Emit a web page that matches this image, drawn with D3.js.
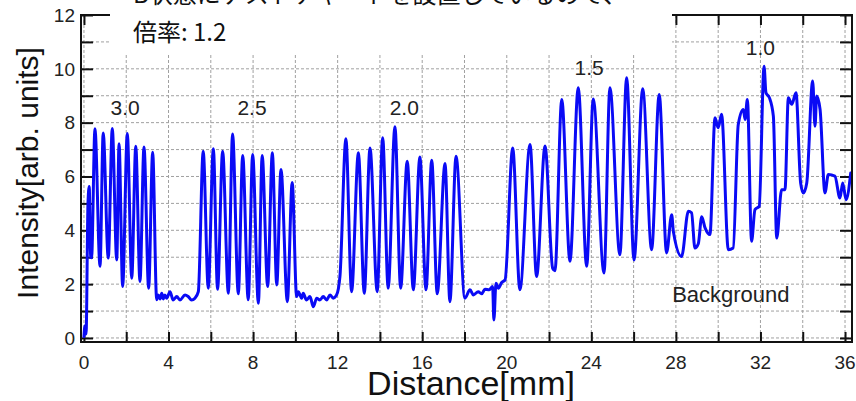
<!DOCTYPE html>
<html><head><meta charset="utf-8">
<script src="https://cdn.jsdelivr.net/npm/d3@7"></script>
<style>body{margin:0;background:#fff;} svg{display:block;}</style>
</head><body>
<svg id="chart" width="856" height="401"></svg>
<script>
// ---- data ----
const distance = [0.00,0.05,0.10,0.19,0.25,0.31,0.36,0.52,0.76,0.91,1.15,1.34,1.55,1.66,1.83,2.05,2.26,2.45,2.65,2.84,3.06,3.25,3.44,3.51,3.60,3.68,3.75,3.83,3.91,4.07,4.22,4.39,4.54,4.78,4.93,5.09,5.25,5.41,
5.64,5.88,6.12,6.32,6.56,6.83,7.03,7.30,7.51,7.77,7.98,8.25,8.43,8.69,8.91,9.12,9.32,9.62,9.85,10.06,10.14,10.30,10.37,10.53,10.69,10.85,11.01,11.16,11.32,11.48,11.64,11.79,11.95,12.11,
12.39,12.66,12.98,13.26,13.53,13.87,14.13,14.39,14.71,14.98,15.29,15.58,15.89,16.18,16.45,16.71,17.08,17.31,17.60,18.02,18.26,18.42,18.65,18.81,18.97,19.17,19.33,19.39,19.49,19.60,19.76,19.92,
20.28,20.62,21.10,21.41,21.81,22.17,22.28,22.60,22.99,23.38,23.78,24.09,24.60,24.88,25.35,25.67,26.02,26.43,26.85,27.21,27.56,
27.80,27.88,28.27,28.59,28.74,28.90,29.06,29.22,29.38,29.61,29.85,30.00,30.16,30.48,30.71,30.95,31.19,31.27,31.38,31.58,31.74,31.94,32.17,32.26,32.42,32.61,32.77,33.00,33.16,33.32,33.48,33.68,33.90,34.03,34.19,34.47,34.58,34.66,34.82,35.05,35.21,35.52,35.76,35.89,36.05,36.27];
const intensity = [0.05,0.45,0.15,5.0,5.63,3.0,2.98,7.77,2.66,7.62,2.97,7.78,2.90,7.22,1.91,7.60,2.22,7.12,2.10,7.10,1.85,6.90,1.42,1.60,1.45,1.66,1.45,1.60,1.48,1.72,1.41,1.54,1.41,1.60,1.54,1.41,1.48,1.72,
6.94,1.85,7.03,1.81,6.94,1.66,7.58,1.64,6.78,1.42,6.82,1.29,6.78,1.91,6.88,1.97,6.26,1.35,5.78,1.54,1.72,1.48,1.66,1.41,1.54,1.16,1.48,1.41,1.54,1.41,1.60,1.48,1.60,2.3,
7.40,1.72,6.88,1.66,7.06,1.72,7.44,1.85,7.85,1.85,6.57,1.79,6.72,1.79,6.60,1.64,6.48,1.35,6.75,1.48,1.79,1.60,1.72,1.64,1.81,1.79,1.91,0.67,2.03,1.85,2.06,2.16,
7.06,1.79,7.19,2.28,7.13,2.59,2.50,8.86,2.85,9.30,2.66,8.88,2.41,9.30,3.09,9.67,2.90,9.26,3.28,9.05,3.16,
4.58,3.96,3.03,4.71,4.65,3.34,3.50,4.50,4.09,3.84,8.18,7.81,8.31,3.28,3.34,7.93,8.49,8.12,8.86,3.59,4.77,4.89,10.10,9.11,8.93,8.24,3.71,5.51,5.51,8.93,8.68,9.11,5.76,5.39,5.76,9.55,7.87,8.99,8.49,5.39,6.07,6.01,5.20,5.76,5.14,6.13];

const xTickLabels = [0,4,8,12,16,20,24,28,32,36];
const xTickMarks = d3.range(0, 37, 2);
const yTickLabels = [0,2,4,6,8,10,12];
const yTickMarks = d3.range(0, 13, 1);
const groupLabels = ["3.0","2.5","2.0","1.5","1.0"];
const groupX = [1.95, 7.95, 15.15, 23.9, 32.0];
const groupY = [8.28, 8.28, 8.3, 9.76, 10.5];
const bgLabel = "Background";
const bgX = 30.6, bgY = 1.32;
const noteLines = ["B状態にテストチャートを設置しているので、", "倍率: 1.2"];
const xTitle = "Distance[mm]";
const yTitle = "Intensity[arb. units]";

// ---- layout ----
const svg = d3.select("#chart");
const L = 81, R = 852, T = 15, B = 342;
const x = d3.scaleLinear().domain([-0.14, 36.33]).range([L, R]);
const y = d3.scaleLinear().domain([-0.15, 12]).range([B, T]);
const font = "Liberation Sans, Arial, sans-serif";

// grid
const grid = svg.append("g").attr("stroke", "#a0a0a0").attr("stroke-width", 1).attr("stroke-dasharray", "3,2");
grid.selectAll("line.h").data(yTickMarks).join("line")
  .attr("x1", L).attr("x2", R).attr("y1", d => y(d)).attr("y2", d => y(d));
grid.selectAll("line.v").data(xTickMarks).join("line")
  .attr("y1", T).attr("y2", B).attr("x1", d => x(d)).attr("x2", d => x(d));

// ticks via axes (inward)
const axB = d3.axisBottom(x).tickValues(xTickMarks).tickSize(-10).tickFormat("");
const axT = d3.axisTop(x).tickValues(xTickMarks).tickSize(-10).tickFormat("");
const axL = d3.axisLeft(y).tickValues(yTickMarks).tickSize(-12).tickFormat("");
const axR = d3.axisRight(y).tickValues(yTickMarks).tickSize(-12).tickFormat("");
function styleAx(g){ g.select(".domain").remove(); g.selectAll(".tick line").attr("stroke","#111").attr("stroke-width",2); }
svg.append("g").attr("transform",`translate(0,${B})`).call(axB).call(styleAx);
svg.append("g").attr("transform",`translate(0,${T})`).call(axT).call(styleAx);
svg.append("g").attr("transform",`translate(${L},0)`).call(axL).call(styleAx);
svg.append("g").attr("transform",`translate(${R},0)`).call(axR).call(styleAx);

// line
const pts = distance.map((d,i) => [d, intensity[i]]);
svg.append("path").datum(pts)
  .attr("fill","none").attr("stroke","#0a0af5").attr("stroke-width",3)
  .attr("stroke-linejoin","round").attr("stroke-linecap","round")
  .attr("d", d3.line().curve(d3.curveMonotoneX).x(d => x(d[0])).y(d => y(d[1])));

// frame
svg.append("rect").attr("x",L).attr("y",T).attr("width",R-L).attr("height",B-T)
  .attr("fill","none").attr("stroke","#111").attr("stroke-width",2);

// tick labels
svg.append("g").selectAll("text").data(xTickLabels).join("text")
  .attr("x", d => x(d)).attr("y", 369).attr("text-anchor","middle")
  .attr("font-family", font).attr("font-size", 19).attr("fill","#222").text(d => d);
svg.append("g").selectAll("text").data(yTickLabels).join("text")
  .attr("x", 75).attr("y", d => y(d)).attr("dy","0.36em").attr("text-anchor","end")
  .attr("font-family", font).attr("font-size", 19).attr("fill","#222").text(d => d);

// titles
svg.append("text").attr("x", 471).attr("y", 395).attr("text-anchor","middle")
  .attr("font-family", font).attr("font-size", 34).attr("fill","#111").text(xTitle);
svg.append("text").attr("transform","translate(38,173) rotate(-90)").attr("text-anchor","middle")
  .attr("font-family", font).attr("font-size", 30).attr("fill","#111").text(yTitle);

// group annotations
svg.append("g").selectAll("text").data(groupLabels).join("text")
  .attr("x", (d,i) => x(groupX[i])).attr("y", (d,i) => y(groupY[i])).attr("text-anchor","middle")
  .attr("font-family", font).attr("font-size", 21).attr("fill","#222").text(d => d);
svg.append("text").attr("x", x(bgX)).attr("y", y(bgY)).attr("text-anchor","middle")
  .attr("font-family", font).attr("font-size", 22).attr("fill","#222").text(bgLabel);

// note box overlay
svg.append("rect").attr("x",110).attr("y",0).attr("width",562).attr("height",54).attr("fill","#fff");
svg.append("g").selectAll("text").data(noteLines).join("text")
  .attr("x", 133).attr("y", (d,i) => 3 + i*38)
  .attr("font-family", "Noto Sans CJK JP, sans-serif").attr("font-size", 24).attr("fill","#111").text(d => d);
</script>
</body></html>
